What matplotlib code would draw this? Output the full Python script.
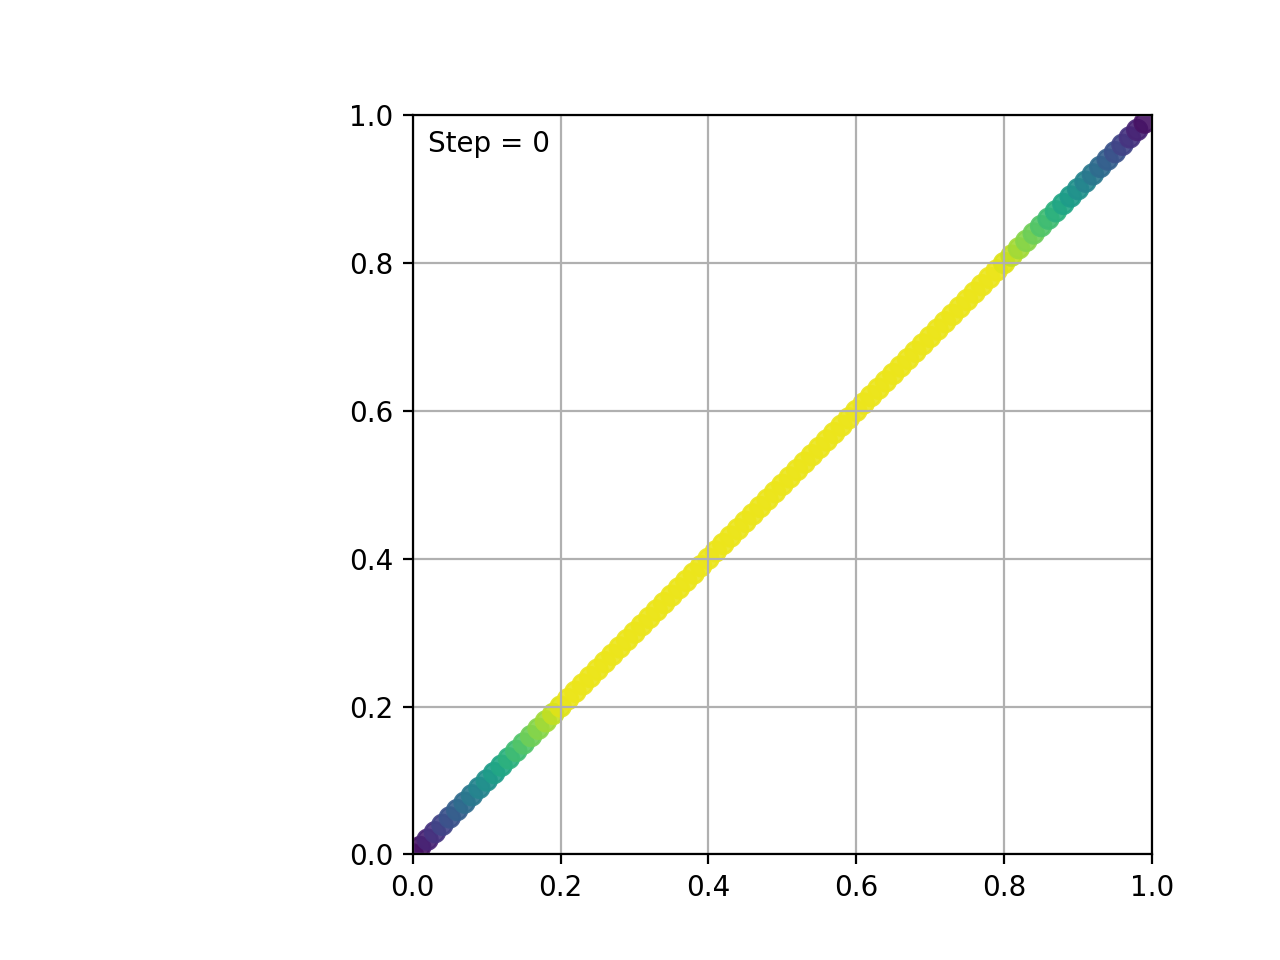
import matplotlib
matplotlib.use('Agg')
import matplotlib.pyplot as plt

# positions along the diagonal (x == y)
pos = [0.00, 0.01, 0.02, 0.03, 0.04, 0.05, 0.06, 0.07, 0.08, 0.09,
       0.10, 0.11, 0.12, 0.13, 0.14, 0.15, 0.16, 0.17, 0.18, 0.19,
       0.20, 0.21, 0.22, 0.23, 0.24, 0.25, 0.26, 0.27, 0.28, 0.29,
       0.30, 0.31, 0.32, 0.33, 0.34, 0.35, 0.36, 0.37, 0.38, 0.39,
       0.40, 0.41, 0.42, 0.43, 0.44, 0.45, 0.46, 0.47, 0.48, 0.49,
       0.50, 0.51, 0.52, 0.53, 0.54, 0.55, 0.56, 0.57, 0.58, 0.59,
       0.60, 0.61, 0.62, 0.63, 0.64, 0.65, 0.66, 0.67, 0.68, 0.69,
       0.70, 0.71, 0.72, 0.73, 0.74, 0.75, 0.76, 0.77, 0.78, 0.79,
       0.80, 0.81, 0.82, 0.83, 0.84, 0.85, 0.86, 0.87, 0.88, 0.89,
       0.90, 0.91, 0.92, 0.93, 0.94, 0.95, 0.96, 0.97, 0.98, 0.99]

# colour value of each point
level = [0.00, 0.05, 0.10, 0.15, 0.20, 0.25, 0.30, 0.35, 0.40, 0.45,
         0.50, 0.55, 0.59, 0.64, 0.69, 0.73, 0.78, 0.82, 0.86, 0.91,
         0.95, 0.97, 0.97, 0.97, 0.97, 0.97, 0.97, 0.97, 0.97, 0.97,
         0.97, 0.97, 0.97, 0.97, 0.97, 0.97, 0.97, 0.97, 0.97, 0.97,
         0.97, 0.97, 0.97, 0.97, 0.97, 0.97, 0.97, 0.97, 0.97, 0.97,
         0.97, 0.97, 0.97, 0.97, 0.97, 0.97, 0.97, 0.97, 0.97, 0.97,
         0.97, 0.97, 0.97, 0.97, 0.97, 0.97, 0.97, 0.97, 0.97, 0.97,
         0.97, 0.97, 0.97, 0.97, 0.97, 0.97, 0.97, 0.97, 0.97, 0.97,
         0.95, 0.91, 0.86, 0.82, 0.78, 0.73, 0.69, 0.64, 0.59, 0.55,
         0.50, 0.45, 0.40, 0.35, 0.30, 0.25, 0.20, 0.15, 0.10, 0.05]

step = 0

fig, ax = plt.subplots(figsize=(6.4, 4.8), dpi=200)
ax.scatter(pos, pos, c=level, cmap='viridis', vmin=0, vmax=1, s=50, alpha=0.9)
ax.set_xlim(0, 1)
ax.set_ylim(0, 1)
ax.set_aspect('equal')
ax.set_anchor('E')
ax.grid(True)
ax.text(0.02, 0.95, 'Step = %d' % step, transform=ax.transAxes)
fig.savefig('out.png')
